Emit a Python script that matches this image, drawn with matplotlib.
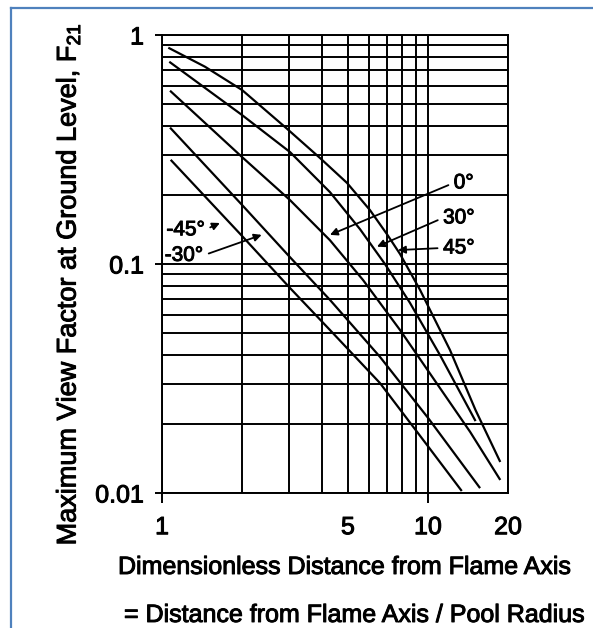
import matplotlib
matplotlib.use('Agg')
import matplotlib.pyplot as plt
import matplotlib.patheffects as pe
from matplotlib.lines import Line2D
from matplotlib.ticker import NullFormatter

plt.rcParams['font.family'] = ['Liberation Sans', 'DejaVu Sans']
plt.rcParams['mathtext.fontset'] = 'custom'
plt.rcParams['mathtext.rm'] = 'Liberation Sans'

# maximum view factor vs. dimensionless distance, one curve per flame tilt
x_45 = [1.056, 1.45, 2.0, 2.94, 3.93, 4.96, 6.05, 7.01, 7.85, 9.34, 12.1, 15.1, 18.7]
f_45 = [0.880, 0.727, 0.575, 0.391, 0.290, 0.226, 0.172, 0.135, 0.1106, 0.0770, 0.0421, 0.0230, 0.01366]
x_30 = [1.065, 2.0, 3.03, 4.28, 5.55, 6.89, 8.56, 11.1, 15.1]
f_30 = [0.764, 0.447, 0.308, 0.206, 0.142, 0.100, 0.0676, 0.0400, 0.0206]
x_0 = [1.072, 2.0, 3.03, 4.28, 5.70, 7.85, 11.1, 14.4, 18.7]
f_0 = [0.571, 0.293, 0.190, 0.127, 0.0851, 0.0515, 0.0287, 0.0185, 0.0114]
x_m30 = [1.072, 2.0, 3.03, 4.28, 6.60, 10.0, 15.7]
f_m30 = [0.394, 0.181, 0.107, 0.0697, 0.0393, 0.0213, 0.0105]
x_m45 = [1.078, 2.0, 3.03, 4.28, 6.60, 10.0, 13.4]
f_m45 = [0.285, 0.1325, 0.0785, 0.0515, 0.0302, 0.0160, 0.0102]

# angle labels: text anchor and arrow tip
right_labels = ['0°', '30°', '45°']
right_text = [(12.5, 0.226), (11.4, 0.159), (11.4, 0.1175)]
right_tip = [(4.28, 0.134), (6.43, 0.119), (7.71, 0.115)]
left_labels = ['-45°', '-30°']
left_text = [(1.45, 0.141), (1.43, 0.109)]
left_tip = [(1.65, 0.151), (2.37, 0.134)]

x_ticks = [1, 5, 10, 20]
x_grid = [2, 3, 4, 6, 7, 8, 9]
y_ticks = [0.01, 0.1, 1]
y_tick_labels = ['0.01', '0.1', '1']
y_grid = [0.02, 0.03, 0.04, 0.05, 0.06, 0.07, 0.08, 0.09,
          0.2, 0.3, 0.4, 0.5, 0.6, 0.7, 0.8, 0.9]

# slightly heavier glyphs, like a printed chart
heavy = [pe.withStroke(linewidth=0.7, foreground='black')]

fig = plt.figure(figsize=(5.93, 6.28), dpi=100)
ax = fig.add_axes([0.2732, 0.2150, 0.5835, 0.7293])

ax.set_xscale('log')
ax.set_yscale('log')
ax.set_xlim(1, 20)
ax.set_ylim(0.01, 1)

for xs, fs in [(x_45, f_45), (x_30, f_30), (x_0, f_0), (x_m30, f_m30), (x_m45, f_m45)]:
    ax.plot(xs, fs, color='black', lw=1.6, solid_capstyle='butt', zorder=3)

ax.set_xticks(x_ticks)
ax.set_xticklabels([str(t) for t in x_ticks])
ax.set_xticks(x_grid, minor=True)
ax.xaxis.set_minor_formatter(NullFormatter())
ax.set_yticks(y_ticks)
ax.set_yticklabels(y_tick_labels)
ax.set_yticks(y_grid, minor=True)
ax.yaxis.set_minor_formatter(NullFormatter())

ax.grid(True, which='both', color='black', lw=1.4)
ax.tick_params(which='minor', length=0)
ax.tick_params(axis='x', which='major', length=7, width=1.4, pad=9, labelsize=18)
ax.tick_params(axis='y', which='major', length=5, width=1.4, pad=8, labelsize=18)
# only 1 and 10 carry a tick mark below the axis
for t, val in zip(ax.xaxis.get_major_ticks(), x_ticks):
    if val in (5, 20):
        t.tick1line.set_markersize(0)
for lab in ax.get_xticklabels() + ax.get_yticklabels():
    lab.set_path_effects(heavy)
for s in ax.spines.values():
    s.set_linewidth(1.4)

arrow_kw = dict(arrowstyle='-|>', color='black', lw=1.3, mutation_scale=11,
                shrinkA=2, shrinkB=0)
for lab, xyt, xy in zip(right_labels, right_text, right_tip):
    ax.annotate(lab, xy=xy, xytext=xyt, ha='left', va='center', fontsize=15,
                path_effects=heavy,
                arrowprops=dict(relpos=(0, 0.5), **arrow_kw))
for lab, xyt, xy in zip(left_labels, left_text, left_tip):
    ax.annotate(lab, xy=xy, xytext=xyt, ha='right', va='center', fontsize=15,
                path_effects=heavy,
                arrowprops=dict(relpos=(1, 0.5), **arrow_kw))

fig.text(68 / 593, 0.548, r'Maximum View Factor at Ground Level, F$_{21}$',
         rotation=90, ha='center', va='center', fontsize=19.5, path_effects=heavy)
fig.text(118 / 593, 0.086, 'Dimensionless Distance from Flame Axis',
         ha='left', va='baseline', fontsize=18, path_effects=heavy)
fig.text(124 / 593, 0.0096, '= Distance from Flame Axis / Pool Radius',
         ha='left', va='baseline', fontsize=18, path_effects=heavy)

# blue frame around the figure
frame_c = '#4F81BD'
fig.add_artist(Line2D([0.0186, 1.0], [0.988, 0.988], color=frame_c, lw=1.6,
                      transform=fig.transFigure))
fig.add_artist(Line2D([0.0186, 0.0186], [0.0, 0.988], color=frame_c, lw=1.6,
                      transform=fig.transFigure))

fig.savefig('out.png', dpi=100)
